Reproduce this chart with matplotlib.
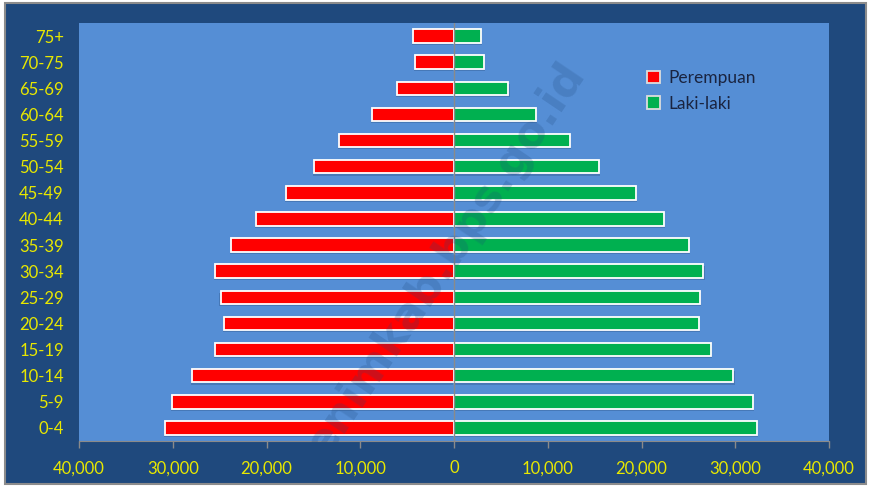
import matplotlib.pyplot as plt
import matplotlib.patches as mpatches
from matplotlib.ticker import FuncFormatter
import numpy as np

# data, from youngest to oldest
kelompok_umur = ['0-4', '5-9', '10-14', '15-19', '20-24', '25-29', '30-34', '35-39',
                 '40-44', '45-49', '50-54', '55-59', '60-64', '65-69', '70-75', '75+']
perempuan = [30800, 30100, 27900, 25500, 24500, 24900, 25500, 23800,
             21100, 17900, 14900, 12300, 8700, 6100, 4150, 4400]
laki_laki = [32300, 31900, 29800, 27400, 26100, 26200, 26600, 25100,
             22400, 19400, 15500, 12400, 8700, 5800, 3200, 2900]

bg_luar = '#1F497D'
bg_plot = '#558ED5'
kuning = '#E8E800'

fig = plt.figure(figsize=(8.69, 4.87), dpi=100, facecolor='white')

# bingkai luar (biru tua dengan garis abu)
frame = mpatches.Rectangle((5/869, 3/487), 861/869, 481/487, transform=fig.transFigure,
                           facecolor=bg_luar, edgecolor='#8c8c8c', linewidth=1.5, zorder=-5)
fig.patches.append(frame)

ax = fig.add_axes([79/869, 1 - 441/487, 750/869, 418/487])
ax.set_facecolor(bg_plot)

y = np.arange(len(kelompok_umur))
tinggi = 0.52

# bayangan tipis di bawah batang
for yy, f, m in zip(y, perempuan, laki_laki):
    ax.barh(yy - 0.08, -f, height=tinggi, left=-120, color='#2a4f80', alpha=0.35,
            edgecolor='none', zorder=1)
    ax.barh(yy - 0.08, m, height=tinggi, left=120, color='#2a4f80', alpha=0.35,
            edgecolor='none', zorder=1)

ax.barh(y, [-v for v in perempuan], height=tinggi, color='#FF0000', edgecolor='white',
        linewidth=1.3, zorder=2, label='Perempuan')
ax.barh(y, laki_laki, height=tinggi, color='#00B050', edgecolor='white',
        linewidth=1.3, zorder=2, label='Laki-laki')

ax.axvline(0, color='#8a8a8a', linewidth=1, zorder=3)

ax.set_xlim(-40000, 40000)
ax.set_ylim(-0.5, len(kelompok_umur) - 0.5)
ax.set_xticks(np.arange(-40000, 40001, 10000))
ax.xaxis.set_major_formatter(FuncFormatter(lambda v, p: f'{abs(int(v)):,}'))
ax.set_yticks(y)
ax.set_yticklabels(kelompok_umur)

font = 'Lato'
for lbl in ax.get_xticklabels() + ax.get_yticklabels():
    lbl.set_color(kuning)
    lbl.set_fontsize(12)
    lbl.set_family(font)

ax.tick_params(axis='x', colors='#8a8a8a', length=5, width=1, pad=9, labelcolor=kuning)
ax.tick_params(axis='y', length=0, pad=11, labelcolor=kuning)
for s in ['top', 'right', 'left']:
    ax.spines[s].set_visible(False)
ax.spines['bottom'].set_color('#8a8a8a')

leg = ax.legend(loc='upper left', bbox_to_anchor=(0.737, 0.925), frameon=False,
                handlelength=0.7, handleheight=0.7, handletextpad=0.5, labelspacing=0.55,
                prop={'family': font, 'size': 12.5})
for t in leg.get_texts():
    t.set_color('#1a2440')
for h in leg.legend_handles:
    h.set_edgecolor('#dddddd')

# watermark
fig.text(445/869, 1 - 260/487, 'enimkab.bps.go.id', rotation=56, ha='center', va='center',
         fontsize=32, fontweight='bold', color=bg_luar, alpha=0.22, zorder=10)

fig.savefig('out.png', dpi=100, facecolor=fig.get_facecolor())
